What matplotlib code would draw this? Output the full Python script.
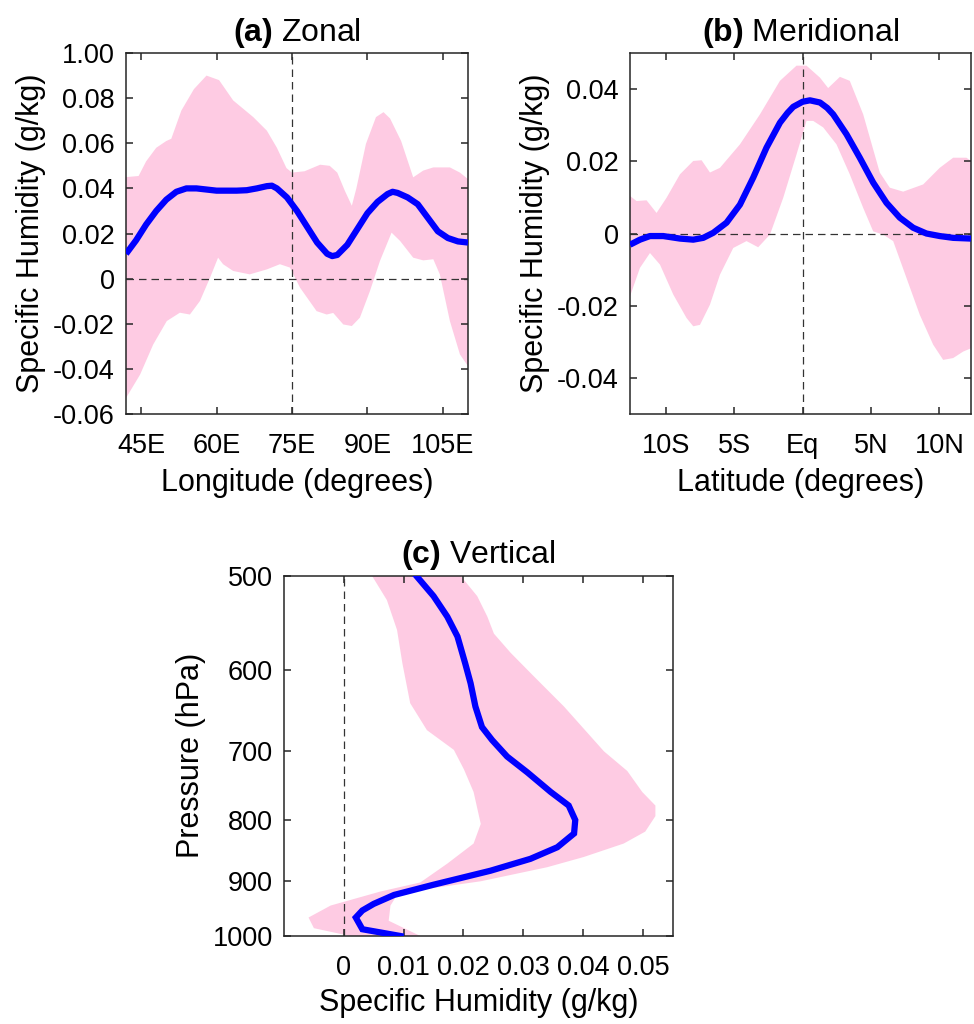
import matplotlib.pyplot as plt
import numpy as np
from matplotlib.ticker import NullLocator

plt.rcParams['font.family'] = 'Liberation Sans'
plt.rcParams['mathtext.fontset'] = 'custom'
plt.rcParams['mathtext.rm'] = 'Liberation Sans'
plt.rcParams['mathtext.bf'] = 'Liberation Sans:bold'

fs = 22
tfs = 19.5
pink = '#fecbe3'
axcol = '#262626'

# (a) zonal: longitude vs specific humidity
lon_mean = [42, 44, 46, 48, 50, 52, 54, 56, 58, 60, 62, 64, 66, 68, 70, 71, 72, 74, 76, 78,
            80, 82, 83, 84, 86, 88, 90, 92, 94, 95, 96, 98, 100, 102, 104, 106, 108, 110]
q_mean_a = [0.011, 0.017, 0.024, 0.030, 0.035, 0.0385, 0.040, 0.040, 0.0395, 0.039, 0.039,
            0.039, 0.0392, 0.040, 0.041, 0.0412, 0.040, 0.036, 0.030, 0.023, 0.016, 0.011,
            0.010, 0.0105, 0.015, 0.022, 0.029, 0.034, 0.0375, 0.0385, 0.038, 0.036, 0.033,
            0.027, 0.021, 0.018, 0.0165, 0.016]
lon_up = [42, 44.5, 46, 48, 50, 51, 53, 55.5, 58, 60.5, 63.3, 67.3, 70, 72, 73.9, 75, 77.5,
          80.6, 82.5, 84, 85.5, 86.9, 87.8, 89.7, 91.7, 93.2, 94.5, 96.7, 99.1, 101.1, 103.1,
          106.4, 108.4, 110]
q_up_a = [0.045, 0.0455, 0.052, 0.058, 0.061, 0.062, 0.0745, 0.084, 0.090, 0.088, 0.079,
          0.0716, 0.0656, 0.058, 0.049, 0.047, 0.0476, 0.0505, 0.050, 0.047, 0.039, 0.0323,
          0.040, 0.0597, 0.0716, 0.0738, 0.071, 0.061, 0.0449, 0.0479, 0.0493, 0.0493,
          0.047, 0.0441]
lon_lo = [42, 44.8, 47.4, 50.1, 52.7, 54.7, 56.7, 58.7, 60.3, 61.3, 63.3, 66.6, 70.0, 72.6,
          74.6, 76.6, 79.9, 81.9, 83.2, 85.2, 86.9, 88.5, 90.5, 92.5, 94.8, 96.5, 99.1,
          101.1, 103.1, 104.4, 106.4, 108.4, 110]
q_lo_a = [-0.0529, -0.0425, -0.0292, -0.0188, -0.0151, -0.0159, -0.0099, 0.0004, 0.0093,
          0.0064, 0.0034, 0.0019, 0.0041, 0.0064, 0.0049, -0.004, -0.0144, -0.0159, -0.0152,
          -0.0203, -0.021, -0.0173, -0.0055, 0.0079, 0.0204, 0.0167, 0.0093, 0.0081, 0.0086,
          0.0019, -0.0188, -0.0336, -0.0388]

# (b) meridional: latitude vs specific humidity
lat_mean = [-12.6, -11.87, -11.14, -10.17, -8.95, -7.98, -7.25, -6.52, -5.55, -4.57, -3.6,
            -2.63, -1.65, -1.1, -0.68, 0, 0.54, 1.27, 1.8, 2.24, 3.21, 4.18, 5.16, 6.13, 7.1,
            8.08, 9.05, 10.02, 11.0, 12.3]
q_mean_b = [-0.0031, -0.0017, -0.0007, -0.0007, -0.0014, -0.0017, -0.0012, 0.0002, 0.003,
            0.008, 0.0155, 0.0238, 0.0307, 0.0334, 0.0351, 0.0365, 0.0369, 0.0363, 0.0348,
            0.033, 0.0275, 0.021, 0.0141, 0.0085, 0.0044, 0.0016, 0.0, -0.0007, -0.0012,
            -0.0014]
lat_up = [-12.6, -12.12, -11.39, -10.66, -9.93, -8.95, -7.98, -7.37, -6.76, -6.03, -4.57,
          -3.11, -1.65, -0.44, 0.29, 1.27, 1.87, 2.73, 3.45, 4.43, 5.64, 6.37, 7.35, 8.81,
          10.02, 11.0, 11.97, 12.3]
q_up_b = [0.0104, 0.009, 0.0092, 0.0057, 0.0099, 0.0164, 0.0201, 0.0203, 0.0169, 0.0182,
          0.0247, 0.033, 0.0423, 0.0465, 0.0465, 0.0432, 0.0403, 0.0434, 0.0423, 0.033,
          0.0169, 0.0127, 0.0116, 0.0136, 0.0182, 0.021, 0.021, 0.0201]
lat_lo = [-12.6, -11.87, -11.14, -10.41, -9.44, -8.47, -7.98, -7.49, -6.76, -6.03, -5.06,
          -4.09, -3.24, -2.38, -1.41, -0.44, 0.29, 0.78, 1.51, 2.48, 3.45, 4.43, 5.16, 5.89,
          6.62, 7.59, 8.56, 9.54, 10.27, 11.0, 11.73, 12.3]
q_lo_b = [-0.0174, -0.0095, -0.0054, -0.0086, -0.0169, -0.0234, -0.0257, -0.0253, -0.0197,
          -0.0114, -0.004, -0.0021, -0.0038, -0.0003, 0.0099, 0.0219, 0.0312, 0.0312, 0.0294,
          0.0247, 0.0164, 0.0071, 0.0006, -0.0003, -0.0021, -0.0123, -0.0225, -0.0308,
          -0.035, -0.0345, -0.0327, -0.0318]

# (c) vertical: pressure vs specific humidity
p_mean = [500, 520, 541, 562, 592, 615, 643, 669, 686, 708, 730, 758, 778, 800, 821, 843,
          862, 882, 906, 924, 940, 952, 965, 987, 1000]
q_mean_c = [0.0121, 0.0150, 0.0173, 0.019, 0.0203, 0.0212, 0.022, 0.0231, 0.0248, 0.0273,
            0.0307, 0.0346, 0.0376, 0.0387, 0.0385, 0.0357, 0.0312, 0.0245, 0.015, 0.0084,
            0.005, 0.0031, 0.002, 0.0031, 0.0095]
p_up = [500, 520, 541, 559, 580, 607, 643, 701, 728, 758, 778, 794, 818, 837, 859, 876, 900,
        915, 924, 943, 971, 1000]
q_up_c = [0.0195, 0.0223, 0.024, 0.0251, 0.0279, 0.0318, 0.0368, 0.0435, 0.0474, 0.0499,
          0.0521, 0.0521, 0.0504, 0.0468, 0.0401, 0.034, 0.0229, 0.0128, 0.0089, 0.0078,
          0.0075, 0.0128]
p_lo = [500, 524, 555, 592, 639, 673, 699, 726, 758, 806, 837, 870, 902, 918, 943, 965, 985,
        1000]
q_lo_c = [0.0047, 0.0072, 0.0089, 0.0098, 0.0111, 0.0139, 0.0184, 0.0201, 0.0217, 0.0229,
          0.0217, 0.0173, 0.0128, 0.0061, -0.0022, -0.0059, -0.005, 0.0011]

lon_ticks = [45, 60, 75, 90, 105]
lon_labels = ['45E', '60E', '75E', '90E', '105E']
qa_ticks = [-0.06, -0.04, -0.02, 0, 0.02, 0.04, 0.06, 0.08, 0.10]
qa_labels = ['-0.06', '-0.04', '-0.02', '0', '0.02', '0.04', '0.06', '0.08', '1.00']
lat_ticks = [-10, -5, 0, 5, 10]
lat_labels = ['10S', '5S', 'Eq', '5N', '10N']
qb_ticks = [-0.04, -0.02, 0, 0.02, 0.04]
qb_labels = ['-0.04', '-0.02', '0', '0.02', '0.04']
qc_ticks = [0, 0.01, 0.02, 0.03, 0.04, 0.05]
qc_labels = ['0', '0.01', '0.02', '0.03', '0.04', '0.05']
p_ticks = [500, 600, 700, 800, 900, 1000]


def style(ax):
    for s in ax.spines.values():
        s.set_linewidth(1.1)
        s.set_color(axcol)
    ax.tick_params(direction='in', top=True, right=True, length=5, width=1.1,
                   color=axcol, labelsize=tfs)
    ax.tick_params(axis='x', pad=14)
    ax.tick_params(axis='y', pad=8)


def dash_h(ax, y):
    ax.axhline(y, color='#333333', lw=0.9, ls=(0, (6, 4)), zorder=2)


def dash_v(ax, x):
    ax.axvline(x, color='#333333', lw=0.9, ls=(0, (6, 4)), zorder=2)


fig = plt.figure(figsize=(9.74, 10.24), dpi=100)

# (a)
ax1 = fig.add_axes([0.1294, 0.5957, 0.3511, 0.3525])
ax1.fill(np.concatenate([lon_up, lon_lo[::-1]]), np.concatenate([q_up_a, q_lo_a[::-1]]),
         color=pink, lw=0, zorder=1)
dash_h(ax1, 0)
dash_v(ax1, 75)
ax1.plot(lon_mean, q_mean_a, color='#0000ff', lw=4.5, zorder=3, solid_capstyle='butt')
ax1.set_xlim(42, 110)
ax1.set_ylim(-0.06, 0.10)
ax1.set_xticks(lon_ticks, lon_labels)
ax1.set_yticks(qa_ticks, qa_labels)
ax1.set_xlabel('Longitude (degrees)', fontsize=fs, labelpad=6)
ax1.set_ylabel('Specific Humidity (g/kg)', fontsize=fs, labelpad=5)
ax1.set_title(r'$\mathbf{(a)}$ Zonal', fontsize=23, pad=9)
style(ax1)

# (b)
ax2 = fig.add_axes([0.6468, 0.5957, 0.3501, 0.3525])
ax2.fill(np.concatenate([lat_up, lat_lo[::-1]]), np.concatenate([q_up_b, q_lo_b[::-1]]),
         color=pink, lw=0, zorder=1)
dash_h(ax2, 0)
dash_v(ax2, 0)
ax2.plot(lat_mean, q_mean_b, color='#0000ff', lw=4.5, zorder=3, solid_capstyle='butt')
ax2.set_xlim(-12.6, 12.3)
ax2.set_ylim(-0.05, 0.05)
ax2.set_xticks(lat_ticks, lat_labels)
ax2.set_yticks(qb_ticks, qb_labels)
ax2.set_xlabel('Latitude (degrees)', fontsize=fs, labelpad=6)
ax2.set_ylabel('Specific Humidity (g/kg)', fontsize=fs, labelpad=5)
ax2.set_title(r'$\mathbf{(b)}$ Meridional', fontsize=23, pad=9)
style(ax2)

# (c)
ax3 = fig.add_axes([0.2916, 0.0859, 0.3991, 0.3519])
ax3.fill(np.concatenate([q_up_c, q_lo_c[::-1]]), np.concatenate([p_up, p_lo[::-1]]),
         color=pink, lw=0, zorder=1)
dash_v(ax3, 0)
ax3.plot(q_mean_c, p_mean, color='#0000ff', lw=4.5, zorder=3, solid_joinstyle='miter')
ax3.set_yscale('log')
ax3.set_ylim(1000, 500)
ax3.set_xlim(-0.01, 0.055)
ax3.set_yticks(p_ticks, [str(p) for p in p_ticks])
ax3.yaxis.set_minor_locator(NullLocator())
ax3.set_xticks(qc_ticks, qc_labels)
ax3.set_xlabel('Specific Humidity (g/kg)', fontsize=fs, labelpad=5)
ax3.set_ylabel('Pressure (hPa)', fontsize=fs, labelpad=5)
ax3.set_title(r'$\mathbf{(c)}$ Vertical', fontsize=23, pad=9)
style(ax3)

fig.savefig('out.png', dpi=100)
